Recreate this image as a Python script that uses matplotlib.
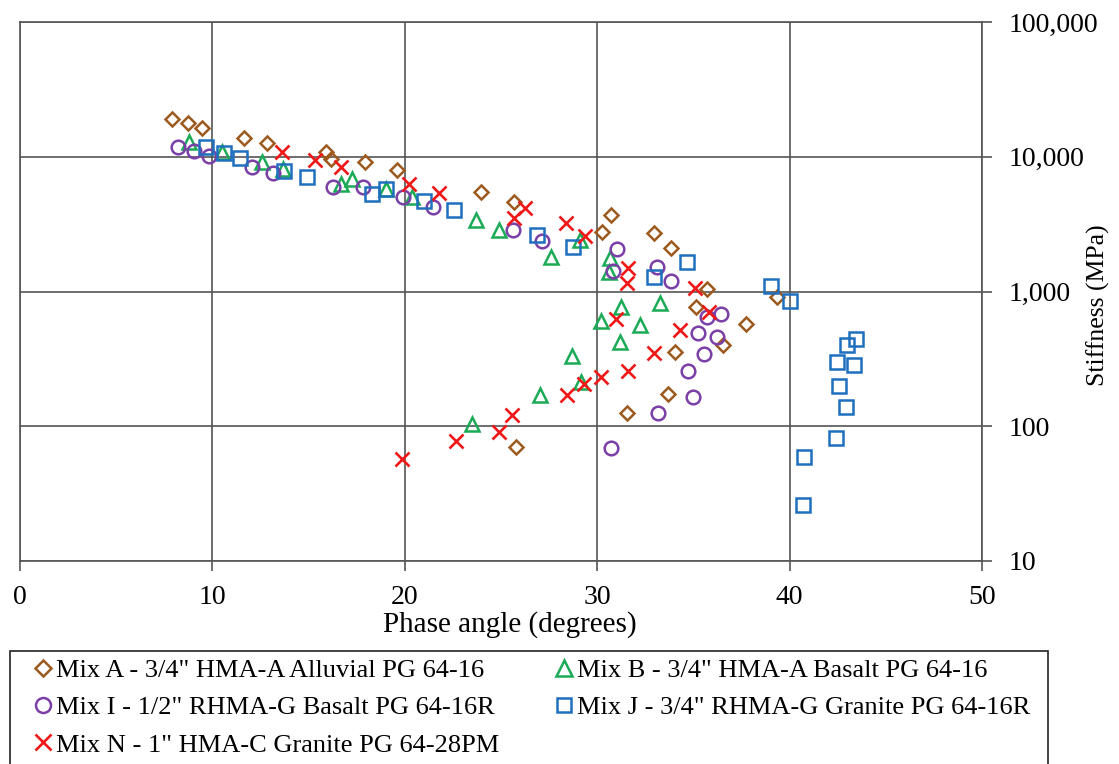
import numpy as np
import matplotlib
matplotlib.use("Agg")
import matplotlib.pyplot as plt
from matplotlib.ticker import FuncFormatter
from matplotlib.patches import Rectangle

plt.rcParams['font.family'] = ['Liberation Serif', 'DejaVu Serif']

# Phase angle (degrees) and stiffness (MPa)
mix_a_x = [7.90, 8.73, 9.46, 11.64, 12.84, 15.90, 16.16, 17.93, 19.59, 23.96, 25.68,
           30.72, 30.25, 32.95, 33.84, 35.71, 35.14, 39.35, 37.73, 36.54, 34.04,
           33.68, 31.55, 25.78]
mix_a_y = [19050, 17800, 16340, 13770, 12650, 10840, 9620, 9140, 7980, 5470, 4610,
           3700, 2770, 2720, 2100, 1045, 767, 910, 574, 401, 356, 173, 125, 70]

mix_b_x = [8.78, 10.50, 12.58, 13.67, 16.68, 17.26, 19.02, 20.37, 23.70, 24.90, 27.60,
           29.11, 30.67, 30.61, 31.24, 33.26, 30.20, 32.22, 31.19, 28.69, 29.16,
           27.03, 23.49]
mix_b_y = [12860, 10840, 9140, 8110, 6280, 6840, 5770, 5030, 3400, 2860, 1800,
           2410, 1770, 1400, 767, 822, 604, 564, 422, 332, 213, 171, 104]

mix_i_x = [8.21, 9.04, 9.82, 12.06, 13.15, 16.27, 17.83, 19.91, 21.47, 25.62, 27.13,
           31.03, 30.82, 33.11, 33.84, 35.71, 36.43, 35.24, 36.23, 35.55, 34.72,
           34.98, 33.16, 30.72]
mix_i_y = [11810, 11040, 10130, 8400, 7570, 5970, 5970, 5030, 4240, 2860, 2370,
           2070, 1420, 1520, 1200, 647, 681, 492, 459, 344, 257, 165, 125, 69]

mix_j_x = [9.67, 10.60, 11.43, 13.72, 14.92, 18.30, 19.02, 21.00, 22.56, 26.87, 28.74,
           32.95, 34.67, 39.03, 40.02, 43.45, 42.98, 42.46, 43.35, 42.57, 42.93,
           42.41, 40.75, 40.70]
mix_j_y = [11810, 10660, 9790, 7840, 7070, 5290, 5770, 4700, 4030, 2630, 2140,
           1280, 1660, 1100, 850, 444, 401, 300, 285, 199, 139, 82, 59, 26]

mix_n_x = [13.62, 15.33, 16.68, 20.22, 21.78, 26.25, 25.68, 28.38, 29.37, 31.60, 31.55,
           35.08, 35.81, 30.98, 34.30, 32.95, 31.60, 30.20, 29.31, 28.43, 25.57,
           24.90, 22.66, 19.85]
mix_n_y = [10840, 9460, 8400, 6280, 5390, 4170, 3510, 3220, 2580, 1490, 1160,
           1060, 705, 625, 518, 350, 257, 232, 206, 171, 121, 91, 78, 57]

labels = ['Mix A - 3/4" HMA-A Alluvial PG 64-16',
          'Mix B - 3/4" HMA-A Basalt PG 64-16',
          'Mix I - 1/2" RHMA-G Basalt PG 64-16R',
          'Mix J - 3/4" RHMA-G Granite PG 64-16R',
          'Mix N - 1" HMA-C Granite PG 64-28PM']

fig = plt.figure(figsize=(11.19, 7.64), dpi=100)
ax = fig.add_axes([20 / 1119, 1 - 561 / 764, 962 / 1119, 539 / 764])

ha = ax.plot(mix_a_x, mix_a_y, 'D', ms=7.2, mfc='none', mec='#9C5A1E', mew=1.8, ls='none')[0]
hb = ax.plot(mix_b_x, mix_b_y, '^', ms=10.5, mfc='none', mec='#1BAA55', mew=1.8, ls='none')[0]
hi = ax.plot(mix_i_x, mix_i_y, 'o', ms=9.8, mfc='none', mec='#7B3FA8', mew=1.8, ls='none')[0]
hj = ax.plot(mix_j_x, mix_j_y, 's', ms=9.5, mfc='none', mec='#1F6FBF', mew=1.8, ls='none')[0]
hn = ax.plot(mix_n_x, mix_n_y, 'x', ms=10, mec='#F01818', mew=1.9, ls='none')[0]

ax.set_yscale('log')
ax.set_xlim(0, 50)
ax.set_ylim(10, 100000)
ax.set_xticks(range(0, 51, 10))
ax.set_yticks([10, 100, 1000, 10000, 100000])
ax.minorticks_off()
ax.yaxis.set_major_formatter(FuncFormatter(lambda v, p: f"{int(v):,}"))
ax.yaxis.tick_right()
ax.yaxis.set_label_position('right')
ax.grid(True, color='#555555', lw=1.2)
for s in ax.spines.values():
    s.set_color('#555555')
    s.set_linewidth(1.2)
ax.tick_params(axis='both', labelsize=20, length=7, width=1.2, color='#555555')
ax.tick_params(axis='x', pad=10)
ax.tick_params(axis='y', pad=12)
ax.set_xlabel('Phase angle (degrees)', fontsize=21)
ax.xaxis.set_label_coords(0.509, -0.092)
ax.set_ylabel('Stiffness (MPa)', fontsize=18.5)
ax.yaxis.set_label_coords(1.109, 0.475)

fig.patches.append(Rectangle((10 / 1119, -0.05), 1038 / 1119, 0.05 + (764 - 651) / 764,
                             transform=fig.transFigure, fill=False,
                             ec='#222222', lw=1.2))
fig.legend([ha, hi, hn, hb, hj], [labels[0], labels[2], labels[4], labels[1], labels[3]],
           ncol=2, loc='upper left', bbox_to_anchor=(28 / 1119, 1 - 653 / 764),
           frameon=False, fontsize=19, handlelength=0.7, handletextpad=0.15,
           labelspacing=0.53, columnspacing=2.1, borderaxespad=0, borderpad=0.2,
           markerscale=1.1)

fig.savefig('out.png', dpi=100)
